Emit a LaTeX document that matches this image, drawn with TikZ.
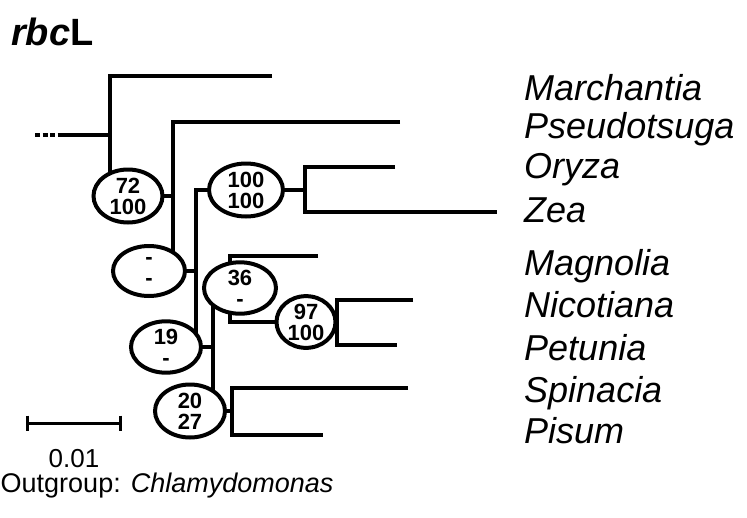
\documentclass[tikz,border=0pt]{standalone}
\usepackage{fontspec}
\setmainfont{Liberation Sans}
\usetikzlibrary{shapes.geometric,backgrounds}
\begin{document}
\begin{tikzpicture}[x=1pt,y=-1pt,
  br/.style={line width=4pt, line join=miter},
  bs/.style={ellipse, draw, line width=4pt, fill=white, inner sep=0pt, align=center,
             font=\fontsize{22}{21}\selectfont\bfseries},
  taxon/.style={anchor=base west, inner sep=0pt, font=\fontsize{36}{40}\selectfont\itshape}]
\useasboundingbox (0,0) rectangle (747,517);

% title
\node[anchor=base west, inner sep=0pt, font=\fontsize{38}{38}\selectfont\bfseries] (title) at (11,45) {\textit{rbc}L};

% bootstrap ellipses
\node[bs, minimum width=69pt, minimum height=53pt] (E1) at (128,196) {72\\100};
\node[bs, minimum width=72pt, minimum height=50pt] (E2) at (149,271) {-\\-};
\node[bs, minimum width=74pt, minimum height=53pt] (E3) at (246,190) {100\\100};
\node[bs, minimum width=70pt, minimum height=49pt] (E4) at (166,347) {19\\-};
\node[bs, minimum width=72pt, minimum height=49pt] (E5) at (240,288) {36\\-};
\node[bs, minimum width=70pt, minimum height=53pt] (E6) at (190,411) {20\\27};
\node[bs, minimum width=59pt, minimum height=46pt] (E7) at (306,322) {97\\100};

% taxa
\node[taxon] (Mar) at (524,100) {Marchantia};
\node[taxon] (Pse) at (524,138) {Pseudotsuga};
\node[taxon] (Ory) at (524,178) {Oryza};
\node[taxon] (Zea) at (524,222) {Zea};
\node[taxon] (Mag) at (524,275) {Magnolia};
\node[taxon] (Nic) at (524,317) {Nicotiana};
\node[taxon] (Pet) at (524,360) {Petunia};
\node[taxon] (Spi) at (524,402) {Spinacia};
\node[taxon] (Pis) at (524,443) {Pisum};

% coordinates
\coordinate (R0) at (35,135);
\coordinate (R1) at (58,135);
\coordinate (R) at (110,135);
\coordinate (J1) at (110,76);
\coordinate (tMar) at (272,76);
\coordinate (J2) at (173,122);
\coordinate (tPse) at (400,122);
\coordinate (J3) at (196,190);
\coordinate (J4a) at (305,167);
\coordinate (J4b) at (305,212);
\coordinate (tOry) at (395,167);
\coordinate (tZea) at (497,212);
\coordinate (J5) at (213,300);
\coordinate (J6) at (230,256);
\coordinate (tMag) at (318,256);
\coordinate (J7a) at (337,300);
\coordinate (J7b) at (337,345);
\coordinate (tNic) at (413,300);
\coordinate (tPet) at (397,345);
\coordinate (J8a) at (232,388);
\coordinate (J8b) at (232,435);
\coordinate (tSpi) at (408,388);
\coordinate (tPis) at (323,435);

\begin{scope}[on background layer]
  \draw[br, dash pattern=on 5pt off 2.5pt] (R0) -- (R1);
  \draw[br] (R1) -- (R);
  \draw[br] (tMar) -- (J1) |- (E1.center);
  \draw[br] (E1.center) -- (E1.center -| J2);
  \draw[br] (tPse) -- (J2) |- (E2.center);
  \draw[br] (E2.center) -- (E2.center -| J3);
  \draw[br] (E3.center) -- (J3) |- (E4.center);
  \draw[br] (E3.center) -- (E3.center -| J4a);
  \draw[br] (tOry) -- (J4a) -- (J4b) -- (tZea);
  \draw[br] (E4.center) -- (E4.center -| J5);
  \draw[br] (E5.center) -- (E5.center -| J5) -- (E6.center -| J5) -- (E6.center);
  \draw[br] (tMag) -- (J6) |- (E7.center);
  \draw[br] (E7.center) -- (E7.center -| J7a);
  \draw[br] (tNic) -- (J7a) -- (J7b) -- (tPet);
  \draw[br] (E6.center) -- (E6.center -| J8a);
  \draw[br] (tSpi) -- (J8a) -- (J8b) -- (tPis);
\end{scope}

% scale bar
\coordinate (S0) at (27,423);
\coordinate (S1) at (120,423);
\draw[line width=3pt] (S0) -- (S1);
\draw[line width=3pt] ([yshift=7.5pt]S0) -- ([yshift=-7.5pt]S0);
\draw[line width=3pt] ([yshift=7.5pt]S1) -- ([yshift=-7.5pt]S1);
\node[anchor=base, inner sep=0pt, font=\fontsize{26}{26}\selectfont] (scl) at (74,467) {0.01};
\node[anchor=base west, inner sep=0pt, font=\fontsize{27}{27}\selectfont] (og) at (0.5,492) {Outgroup: \textit{Chlamydomonas}};
\end{tikzpicture}
\end{document}
